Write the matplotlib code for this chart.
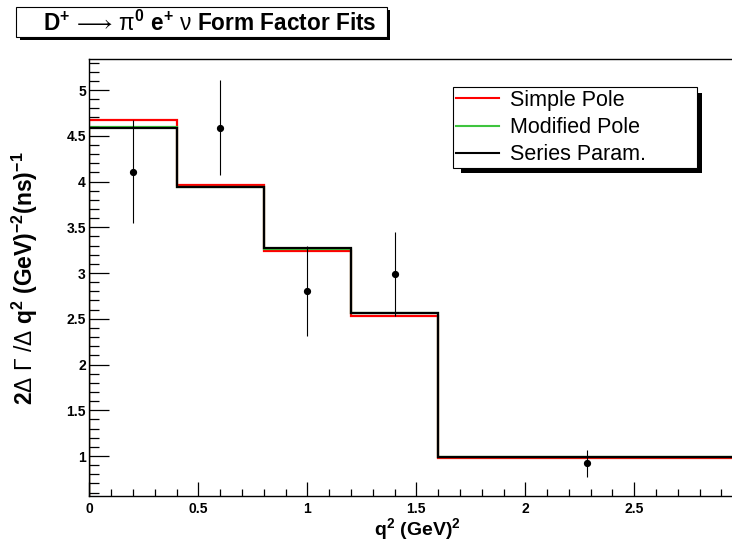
import matplotlib
matplotlib.use("Agg")
import matplotlib.pyplot as plt
from matplotlib.patches import Rectangle
from matplotlib.ticker import MultipleLocator, FuncFormatter

plt.rcParams['font.family'] = ['Liberation Sans', 'DejaVu Sans']
plt.rcParams['mathtext.fontset'] = 'custom'
plt.rcParams['mathtext.rm'] = 'Liberation Sans'
plt.rcParams['mathtext.it'] = 'Liberation Sans:italic'
plt.rcParams['mathtext.bf'] = 'Liberation Sans:bold'

# bin edges of q^2 (GeV^2)
edges = [0.0, 0.4, 0.8, 1.2, 1.6, 3.0]

# fitted rates per bin
simple_pole = [4.67, 3.96, 3.24, 2.53, 0.98]
modified_pole = [4.60, 3.94, 3.26, 2.56, 0.99]
series_param = [4.585, 3.945, 3.27, 2.566, 0.99]

# measured points
data_x = [0.2, 0.6, 1.0, 1.4, 2.284]
data_y = [4.107, 4.588, 2.807, 2.989, 0.92]
data_err = [0.565, 0.52, 0.49, 0.455, 0.146]

W, H = 732, 546
fig = plt.figure(figsize=(W / 100, H / 100), dpi=100)

def px(x0, y0):
    return x0 / W, 1 - y0 / H

ax = fig.add_axes([89.3 / W, 1 - 496.3 / H, (W - 89.3) / W, (496.3 - 59.3) / H])

ax.stairs(simple_pole, edges, color='#ff0000', lw=1.6, label='Simple Pole')
ax.stairs(modified_pole, edges, color='#3ec43e', lw=1.6, label='Modified Pole')
ax.stairs(series_param, edges, color='black', lw=1.6, label='Series Param.')
ax.errorbar(data_x, data_y, yerr=data_err, fmt='o', color='black', ms=4.2,
            elinewidth=0.8, capsize=0)

ax.set_xlim(0, (W - 89.3) / 218.0)
ax.set_ylim(0.56, 5.336)
ax.spines['right'].set_visible(False)
for s in ['left', 'bottom', 'top']:
    ax.spines[s].set_linewidth(1.0)

ax.xaxis.set_major_locator(MultipleLocator(0.5))
ax.xaxis.set_minor_locator(MultipleLocator(0.1))
ax.yaxis.set_major_locator(MultipleLocator(0.5))
ax.yaxis.set_minor_locator(MultipleLocator(0.1))
fmt = FuncFormatter(lambda v, p: '%g' % round(v, 2))
ax.xaxis.set_major_formatter(fmt)
ax.yaxis.set_major_formatter(fmt)
ax.tick_params(axis='both', which='both', direction='in', top=False, right=False)
ax.tick_params(axis='x', which='major', length=9.8, width=0.9, pad=4)
ax.tick_params(axis='x', which='minor', length=4.9, width=0.9)
ax.tick_params(axis='y', which='major', length=14.4, width=0.9, pad=2.5)
ax.tick_params(axis='y', which='minor', length=7.2, width=0.9)
for lab in ax.get_xticklabels() + ax.get_yticklabels():
    lab.set_fontweight('bold')
    lab.set_fontsize(10)

ax.set_xlabel(r'$\mathbf{q^{2}\ (GeV)^{2}}$', fontsize=14)
ax.xaxis.set_label_coords(0.51, -0.046)
ax.set_ylabel(r'$\mathbf{2}\Delta\ \Gamma\ /\Delta\ \mathbf{q^{2}\ (GeV)^{-2}(ns)^{-1}}$',
              fontsize=16.5)
ax.yaxis.set_label_coords(-0.077, 0.5)

# legend with shadow
ax.add_patch(Rectangle(px(461, 173), (702 - 461) / W, (173 - 93) / H,
                       transform=fig.transFigure, facecolor='black',
                       edgecolor='none', zorder=9, clip_on=False))
leg = ax.legend(loc='upper left', bbox_to_anchor=(453 / W, 1 - 87 / H, (697 - 453) / W, 0.0),
                bbox_transform=fig.transFigure, mode='expand', fontsize=15.5,
                frameon=True, fancybox=False, handlelength=2.0, handletextpad=0.55,
                borderpad=0.12, labelspacing=0.3, borderaxespad=0, framealpha=1)
leg.get_frame().set_edgecolor('black')
leg.get_frame().set_linewidth(0.8)
leg.set_zorder(10)
for ln in leg.get_lines():
    ln.set_linewidth(1.5)

# title box with shadow
fig.patches.append(Rectangle(px(20, 40), (390 - 20) / W, (40 - 10) / H,
                             transform=fig.transFigure, facecolor='black',
                             edgecolor='none', zorder=1))
fig.patches.append(Rectangle(px(16, 37), (387 - 16) / W, (37 - 7) / H,
                             transform=fig.transFigure, facecolor='white',
                             edgecolor='black', lw=0.8, zorder=2))
fig.text(*px(210, 23),
         r'$\mathbf{D^{+}}\,\mathrm{\longrightarrow}\,\mathrm{\pi}^{\mathbf{0}}\ \mathbf{e^{+}}\ \mathrm{\nu}$ Form Factor Fits',
         fontsize=16.3, fontweight='bold', ha='center', va='center', zorder=3)

fig.savefig('out.png', dpi=100)
